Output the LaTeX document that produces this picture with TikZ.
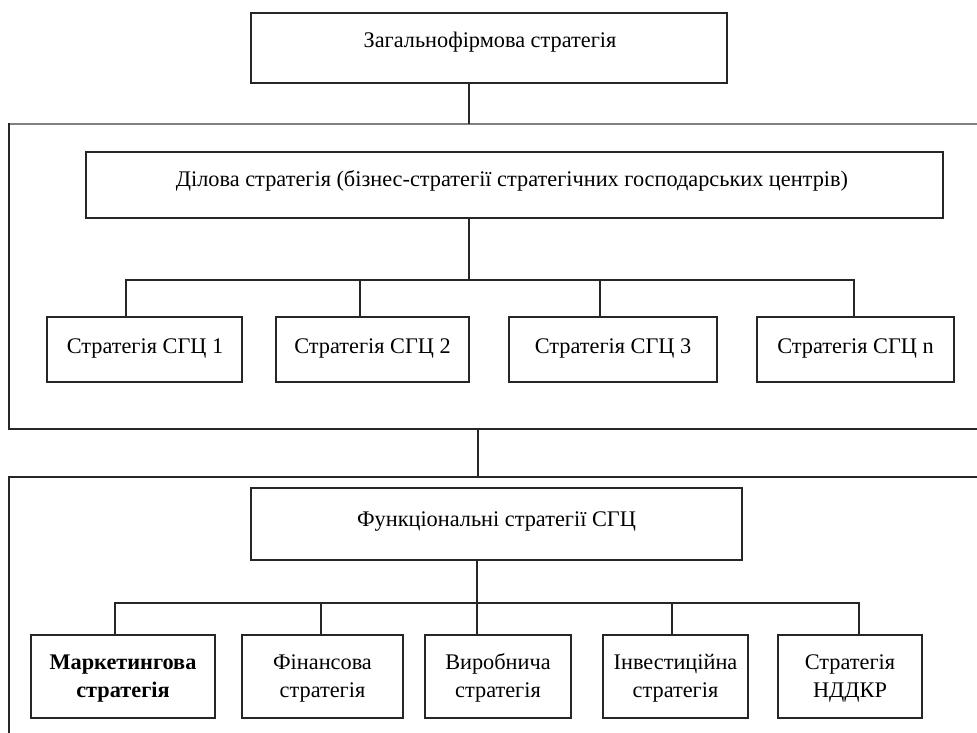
\documentclass[tikz,border=0pt]{standalone}
\usepackage{fontspec}
\setmainfont{Liberation Serif}
\begin{document}
\begin{tikzpicture}[x=1pt,y=-1pt,
  ln/.style={line width=1.6pt,draw=black!85},
  box/.style={ln,rectangle,inner sep=0pt,fill=white},
  txt/.style={inner sep=0pt,font=\fontsize{22.3}{28}\selectfont,align=center},
  btxt/.style={inner sep=0pt,font=\fontsize{22.3}{28}\selectfont,align=center}]
\useasboundingbox (0,0) rectangle (977,733);
% outer frames
\draw[line width=1.6pt,draw=black!50] (977,124) -- (9,124);
\draw[ln] (9,123.2) -- (9,429) -- (977,429);
\draw[ln] (977,477) -- (9,477) -- (9,740);
% top box
\node[box,minimum width=476pt,minimum height=70pt] (top) at (489,48) {};
\node[txt,anchor=base] (topt) at (490,48) {Загальнофірмова стратегія};
\coordinate (o1top) at (469,124);
\draw[ln] (top.south -| o1top) -- (o1top);
% business strategy
\node[box,minimum width=857pt,minimum height=66pt] (del) at (514.5,185) {};
\node[txt,anchor=base] (delt) at (512,186) {Ділова стратегія (бізнес-стратегії стратегічних господарських центрів)};
\coordinate (bus1) at (469,280);
\draw[ln] (del.south -| bus1) -- (bus1);
% SGC boxes
\node[box,minimum width=195pt,minimum height=65pt] (c1) at (144.5,349.5) {};
\node[box,minimum width=193pt,minimum height=65pt] (c2) at (372.5,349.5) {};
\node[box,minimum width=208pt,minimum height=65pt] (c3) at (613,349.5) {};
\node[box,minimum width=197pt,minimum height=65pt] (c4) at (855.5,349.5) {};
\node[txt,anchor=base] (c1t) at (145,353) {Стратегія СГЦ 1};
\node[txt,anchor=base] (c2t) at (372.5,353) {Стратегія СГЦ 2};
\node[txt,anchor=base] (c3t) at (613,353) {Стратегія СГЦ 3};
\node[txt,anchor=base] (c4t) at (855.5,353) {Стратегія СГЦ n};
\coordinate (s1) at (126,280);
\coordinate (s2) at (360,280);
\coordinate (s3) at (600,280);
\coordinate (s4) at (854,280);
\draw[ln] (s1 |- c1.north) -- (s1) -- (s4) -- (s4 |- c4.north);
\draw[ln] (s2) -- (s2 |- c2.north);
\draw[ln] (s3) -- (s3 |- c3.north);
% link between frames
\coordinate (o1b) at (478,429);
\coordinate (o2t) at (478,477);
\draw[ln] (o1b) -- (o2t);
% functional
\node[box,minimum width=491pt,minimum height=72pt] (fun) at (496.5,524) {};
\node[txt,anchor=base] (funt) at (496.5,526) {Функціональні стратегії СГЦ};
\coordinate (bus2) at (477,603);
\draw[ln] (fun.south -| bus2) -- (bus2);
% bottom boxes
\node[box,minimum width=184pt,minimum height=83pt] (f1) at (123,676.5) {};
\node[box,minimum width=161pt,minimum height=83pt] (f2) at (322.5,676.5) {};
\node[box,minimum width=146pt,minimum height=83pt] (f3) at (498,676.5) {};
\node[box,minimum width=145pt,minimum height=83pt] (f4) at (675.5,676.5) {};
\node[box,minimum width=144pt,minimum height=83pt] (f5) at (850,676.5) {};
\node[btxt,font=\bfseries\fontsize{22.3}{28}\selectfont] (f1t) at (123,677.4) {\strut Маркетингова\\\strut стратегія};
\node[btxt] (f2t) at (322.5,677.4) {\strut Фінансова\\\strut стратегія};
\node[btxt] (f3t) at (498,677.4) {\strut Виробнича\\\strut стратегія};
\node[btxt] (f4t) at (675.5,677.4) {\strut Інвестиційна\\\strut стратегія};
\node[btxt] (f5t) at (850,677.4) {\strut Стратегія\\\strut НДДКР};
\coordinate (t1) at (115,603);
\coordinate (t2) at (321,603);
\coordinate (t4) at (672,603);
\coordinate (t5) at (859,603);
\draw[ln] (t1 |- f1.north) -- (t1) -- (t5) -- (t5 |- f5.north);
\draw[ln] (t2) -- (t2 |- f2.north);
\draw[ln] (bus2) -- (bus2 |- f3.north);
\draw[ln] (t4) -- (t4 |- f4.north);
\end{tikzpicture}
\end{document}
